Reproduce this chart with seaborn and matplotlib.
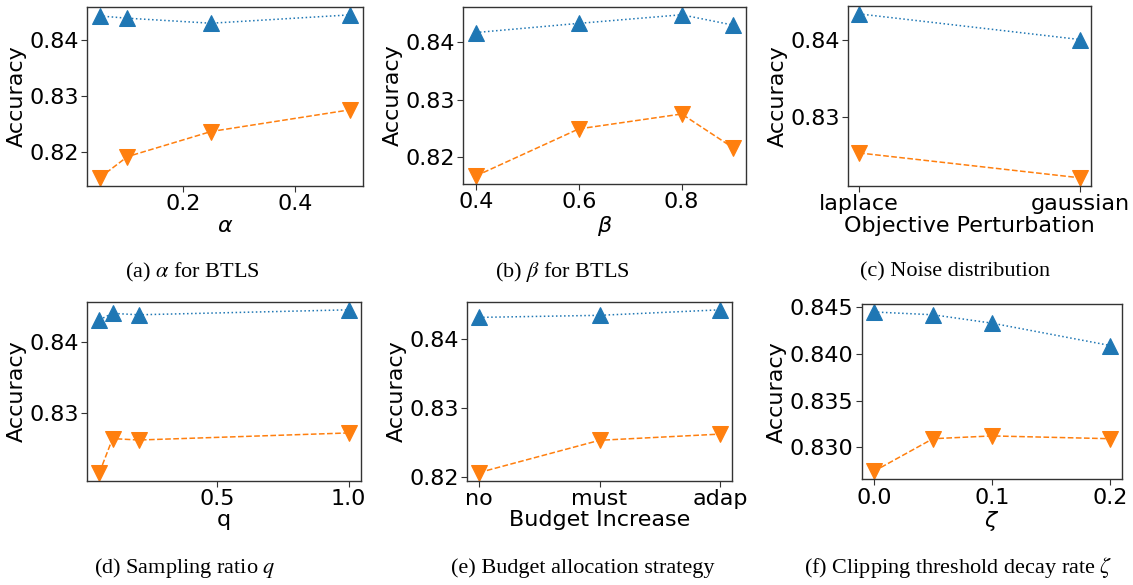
import pandas as pd
import matplotlib
matplotlib.use("Agg")
import matplotlib.pyplot as plt
import matplotlib.ticker as mticker
import seaborn as sns

# values
alpha = [0.05, 0.1, 0.25, 0.5]
alpha_top = [0.8443, 0.8439, 0.8430, 0.8445]
alpha_bot = [0.8153, 0.8191, 0.8236, 0.8275]

beta = [0.4, 0.6, 0.8, 0.9]
beta_top = [0.8417, 0.8433, 0.8448, 0.8430]
beta_bot = [0.8167, 0.8249, 0.8275, 0.8216]

noise = ["laplace", "gaussian"]
noise_top = [0.8433, 0.8400]
noise_bot = [0.8254, 0.8222]

q = [0.05, 0.1, 0.2, 1.0]
q_top = [0.8432, 0.8441, 0.8439, 0.8446]
q_bot = [0.8216, 0.8264, 0.8262, 0.8272]

budget = ["no", "must", "adap"]
budget_top = [0.8432, 0.8435, 0.8443]
budget_bot = [0.8206, 0.8253, 0.8262]

zeta = [0.0, 0.05, 0.1, 0.2]
zeta_top = [0.8445, 0.8442, 0.8433, 0.8409]
zeta_bot = [0.8274, 0.8309, 0.8312, 0.8309]

sns.set_theme(style="ticks")
plt.rcParams['font.family'] = ['DejaVu Sans']
plt.rcParams['mathtext.fontset'] = 'dejavusans'
for k in ['text.color', 'axes.labelcolor', 'xtick.labelcolor', 'ytick.labelcolor']:
    plt.rcParams[k] = 'black'

W, H = 1133, 585
fig = plt.figure(figsize=(W / 100, H / 100), dpi=100)


def box(l, r, t, b):
    return [l / W, 1 - b / H, (r - l) / W, (b - t) / H]


panels = [
    # x, top, bottom, xlabel, caption, axes box, caption pos, x step, y step
    (alpha, alpha_top, alpha_bot, r"$\alpha$", r"(a) $\alpha$ for BTLS",
     box(87, 363, 6.7, 186), (192, 272), 0.2, 0.01),
    (beta, beta_top, beta_bot, r"$\beta$", r"(b) $\beta$ for BTLS",
     box(463, 746, 6.7, 184), (562, 272), 0.2, 0.01),
    (noise, noise_top, noise_bot, "Objective Perturbation", "(c) Noise distribution",
     box(848, 1091, 5.7, 186), (955, 272), None, 0.01),
    (q, q_top, q_bot, "q", r"(d) Sampling ratio $q$",
     box(87, 361, 301.7, 480.7), (185, 568), 0.5, 0.01),
    (budget, budget_top, budget_bot, "Budget Increase", "(e) Budget allocation strategy",
     box(467, 732, 301.7, 480.7), (583, 568), None, 0.01),
    (zeta, zeta_top, zeta_bot, r"$\zeta$", r"(f) Clipping threshold decay rate $\zeta$",
     box(862, 1122, 304, 479.3), (958, 568), 0.1, 0.005),
]

for xs, top, bot, xlab, cap, pos, cpos, xstep, ystep in panels:
    ax = fig.add_axes(pos)
    df = pd.DataFrame({"x": xs, "top": top, "bot": bot})
    sns.lineplot(data=df, x="x", y="top", ax=ax, color="#1f77b4", marker="^",
                 linestyle=":", linewidth=1.1, markersize=11,
                 markeredgecolor="#1f77b4", sort=False)
    sns.lineplot(data=df, x="x", y="bot", ax=ax, color="#ff7f0e", marker="v",
                 linestyle="--", linewidth=1.1, markersize=11,
                 markeredgecolor="#ff7f0e", sort=False)
    ax.set_xlabel(xlab, fontsize=16, labelpad=1)
    ax.set_ylabel("Accuracy", fontsize=16, labelpad=2)
    ax.tick_params(labelsize=16, length=4, width=0.8, pad=2, color="#333333")
    if xstep is not None:
        ax.xaxis.set_major_locator(mticker.MultipleLocator(xstep))
    ax.yaxis.set_major_locator(mticker.MultipleLocator(ystep))
    if ystep == 0.005:
        ax.yaxis.set_major_formatter(mticker.FormatStrFormatter("%.3f"))
    else:
        ax.yaxis.set_major_formatter(mticker.FormatStrFormatter("%.2f"))
    for s in ax.spines.values():
        s.set_color("#333333")
        s.set_linewidth(1.0)
    fig.text(cpos[0] / W, 1 - cpos[1] / H, cap, ha="center", va="center",
             fontsize=16, family=["Liberation Serif", "DejaVu Serif"],
             math_fontfamily="stix")

fig.savefig("out.png", dpi=100)
